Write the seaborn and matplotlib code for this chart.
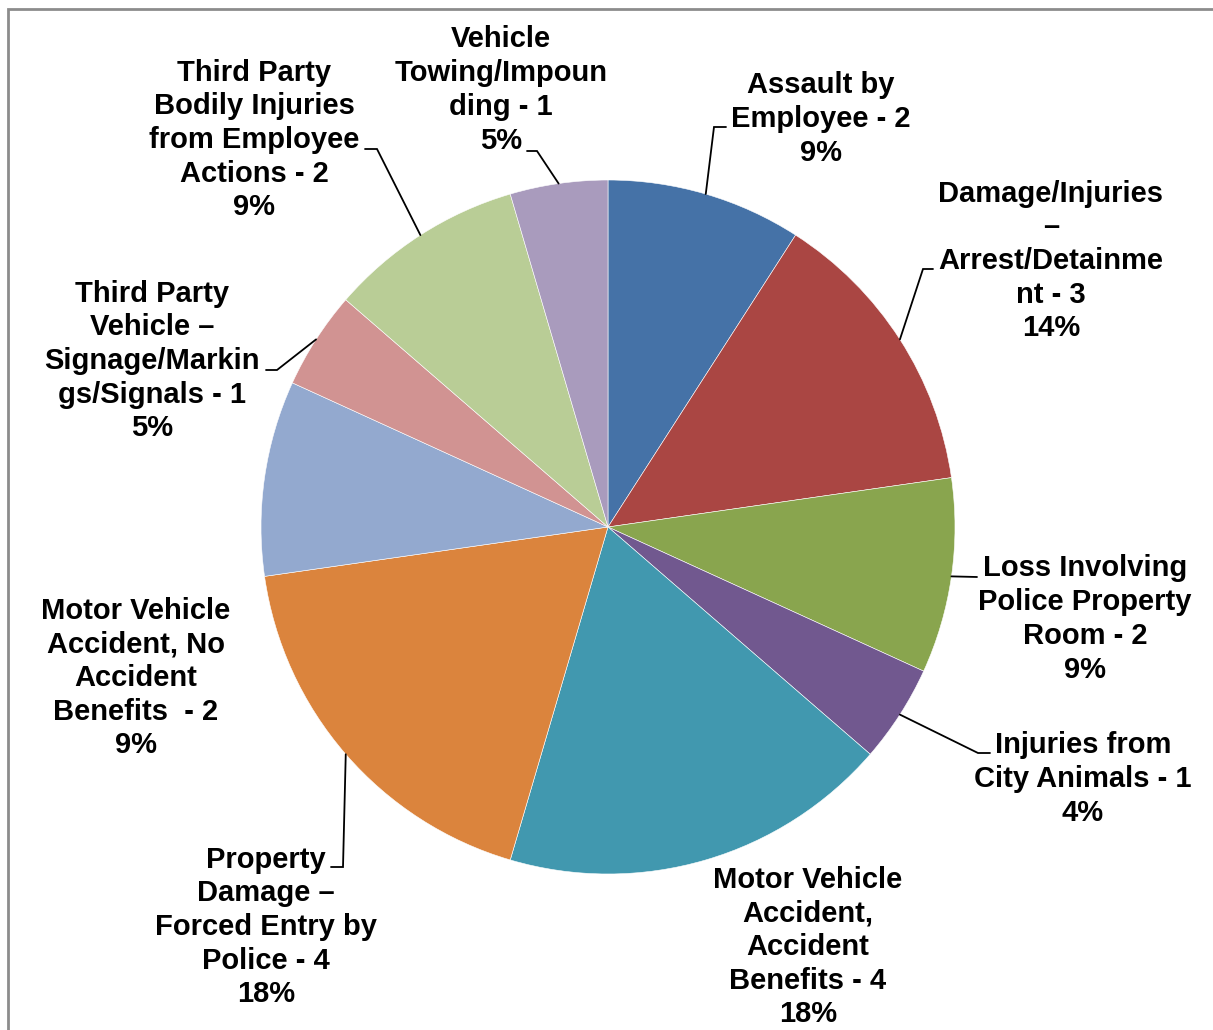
import matplotlib
matplotlib.use("Agg")
import matplotlib.pyplot as plt
import matplotlib.patches as mpatches
import numpy as np
import seaborn as sns

# ---- data ----
categories = [
    "Assault by\nEmployee - 2",
    "Damage/Injuries\n–\nArrest/Detainme\nnt - 3",
    "Loss Involving\nPolice Property\nRoom - 2",
    "Injuries from\nCity Animals - 1",
    "Motor Vehicle\nAccident,\nAccident\nBenefits - 4",
    "Property\nDamage –\nForced Entry by\nPolice - 4",
    "Motor Vehicle\nAccident, No\nAccident\nBenefits  - 2",
    "Third Party\nVehicle –\nSignage/Markin\ngs/Signals - 1",
    "Third Party\nBodily Injuries\nfrom Employee\nActions - 2",
    "Vehicle\nTowing/Impoun\nding - 1",
]
counts = [2, 3, 2, 1, 4, 4, 2, 1, 2, 1]
percent_labels = ["9%", "14%", "9%", "4%", "18%", "18%", "9%", "5%", "9%", "5%"]
colors = ["#4572A7", "#AA4643", "#89A54E", "#71588F", "#4198AF",
          "#DB843D", "#93A9CF", "#D19392", "#B9CD96", "#A99BBD"]

# ---- layout (pixel coords, y downward) ----
W, H = 1213, 1030
center_px = (608, 527)
radius_px = 347
label_pos = [(821, 119), (1051, 261), (1085, 619), (1083, 779), (808, 947),
             (266, 927), (136, 678), (152, 361), (254, 140), (501, 90)]
leaders = [
    [(714, 127), (726, 127)],
    [(923, 269), (933, 269)],
    [(977, 577)],
    [(978, 753), (990, 753)],
    None,
    [(343, 867), (331, 867)],
    None,
    [(277, 370), (266, 370)],
    [(377, 149), (365, 149)],
    [(537, 151), (527, 151)],
]

sns.set_theme(style="white")
plt.rcParams["font.family"] = ["Liberation Sans", "DejaVu Sans"]
palette = sns.color_palette(colors)

fig = plt.figure(figsize=(W / 100, H / 100), dpi=100)
ax = fig.add_axes([0, 0, 1, 1])

def P(x, y):
    return (x, H - y)

wedges, _ = ax.pie(counts, colors=palette, startangle=90, counterclock=False,
                   center=P(*center_px), radius=radius_px,
                   wedgeprops=dict(linewidth=0.4, edgecolor="white"))
ax.set_xlim(0, W)
ax.set_ylim(0, H)
ax.set_aspect("equal")
ax.axis("off")

cx, cy = P(*center_px)
for i, w in enumerate(wedges):
    lx, ly = P(*label_pos[i])
    ax.text(lx, ly, categories[i] + "\n" + percent_labels[i], ha="center", va="center",
            fontsize=21, fontweight="bold", color="black", linespacing=1.26)
    if leaders[i] is not None:
        mid = np.deg2rad((w.theta1 + w.theta2) / 2)
        xs = [cx + radius_px * np.cos(mid)]
        ys = [cy + radius_px * np.sin(mid)]
        for (bx, by) in leaders[i]:
            px, py = P(bx, by)
            xs.append(px)
            ys.append(py)
        ax.plot(xs, ys, color="black", linewidth=1.3, solid_joinstyle="miter")

# chart border (right and bottom edges fall outside the image)
fig.patches.append(mpatches.Rectangle((8 / W, -0.5), 1.5, 1.5 - 9 / H, transform=fig.transFigure,
                                      fill=False, edgecolor="#8c8c8c", linewidth=2))

fig.savefig("out.png", dpi=100)
